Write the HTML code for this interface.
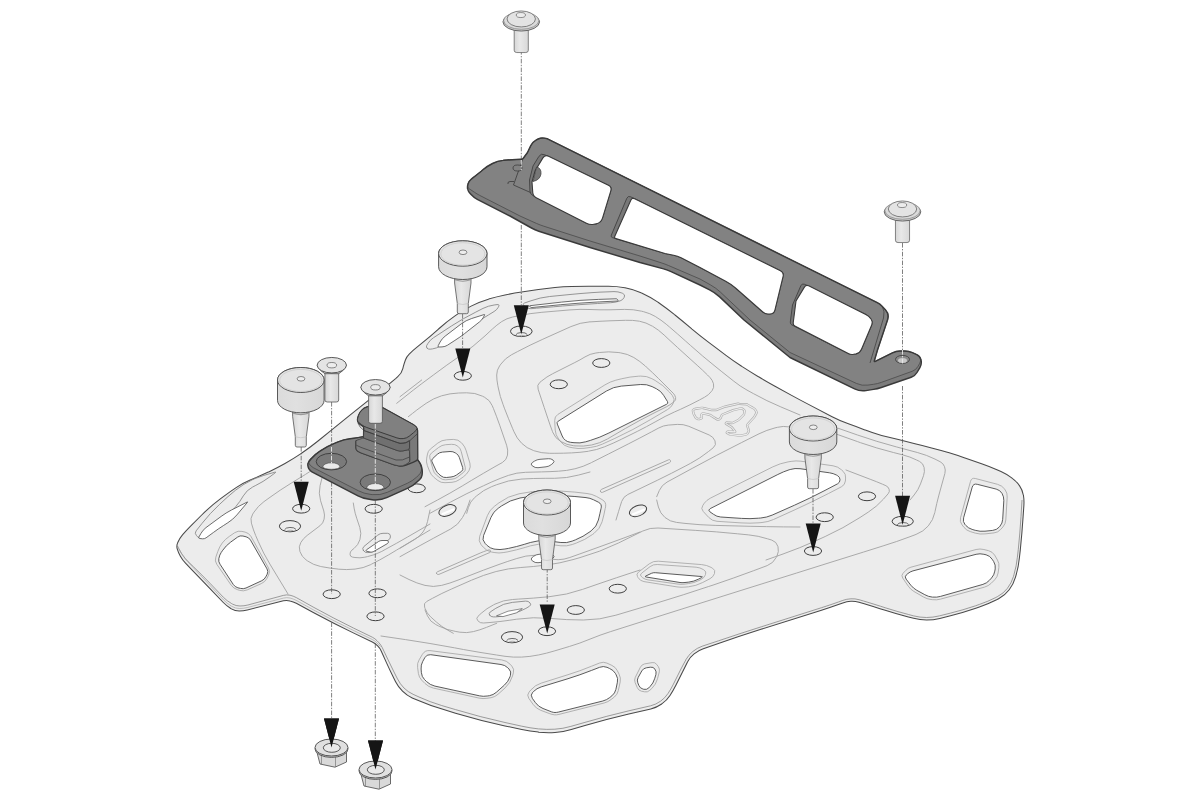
<!DOCTYPE html>
<html><head><meta charset="utf-8"><title>Exploded view</title>
<style>
html,body{margin:0;padding:0;background:#fff;}
body{width:1200px;height:800px;overflow:hidden;font-family:"Liberation Sans",sans-serif;}
svg{display:block;}
</style></head><body>
<svg width="1200" height="800" viewBox="0 0 1200 800" shape-rendering="geometricPrecision">
<rect width="1200" height="800" fill="#fff"/>
<path d="M177.3,549.2 Q176.3,546.0 177.6,542.9 L177.9,542.2 Q179.5,538.5 182.1,535.4 L183.1,534.2 Q186.7,530.0 190.6,526.1 L201.2,515.5 Q210.0,506.7 220.0,499.2 L223.7,496.4 Q230.0,491.7 236.5,487.4 L236.5,487.4 Q243.0,483.0 250.2,480.0 L251.5,479.5 Q260.0,476.0 268.3,472.1 L268.7,471.9 Q277.0,468.0 285.0,463.5 L285.0,463.5 Q293.0,459.0 300.6,453.9 L301.5,453.2 Q310.0,447.5 318.0,441.0 L330.2,431.1 Q350.0,415.0 370.0,399.1 L384.0,388.1 Q390.0,383.3 395.9,378.3 L397.8,376.6 Q401.7,373.3 402.9,368.3 L403.3,366.7 Q404.2,363.3 405.4,360.0 L405.4,360.0 Q406.7,356.7 409.2,354.2 L410.0,353.4 Q413.3,350.0 417.0,347.1 L421.6,343.4 Q430.0,336.7 437.9,329.6 L439.1,328.5 Q446.7,321.7 455.0,315.9 L455.7,315.4 Q463.3,310.0 471.6,305.9 L472.2,305.6 Q480.0,301.7 488.4,299.2 L488.6,299.1 Q496.7,296.7 505.0,295.0 L505.0,295.0 Q513.3,293.3 521.6,292.1 L521.6,292.1 Q530.0,290.8 538.4,289.6 L538.5,289.5 Q546.7,288.3 555.0,287.5 L555.0,287.5 Q563.3,286.7 571.6,286.5 L571.6,286.4 Q580.0,286.2 588.4,286.2 L591.6,286.3 Q600.0,286.3 608.4,286.2 L608.4,286.2 Q616.7,286.2 624.9,287.7 L625.0,287.7 Q633.3,289.2 641.0,292.7 L641.6,292.9 Q650.0,296.7 657.5,301.9 L658.4,302.5 Q666.7,308.3 674.6,314.7 L675.0,315.0 Q683.3,321.7 691.5,328.6 L692.0,329.1 Q700.0,335.8 708.4,342.1 L708.4,342.1 Q716.7,348.3 725.0,354.6 L725.3,354.8 Q733.3,360.8 741.6,366.2 L741.8,366.4 Q750.0,371.7 758.4,376.7 L758.6,376.8 Q766.7,381.7 775.0,386.2 L775.0,386.2 Q783.3,390.8 791.6,395.4 L791.6,395.4 Q800.0,400.0 808.5,404.4 L832.1,416.7 Q840.0,420.8 848.4,423.8 L848.4,423.8 Q856.7,426.7 864.9,430.0 L865.3,430.1 Q873.3,433.3 881.6,435.4 L881.6,435.4 Q890.0,437.5 898.4,439.6 L898.4,439.6 Q906.7,441.7 915.0,443.8 L915.0,443.8 Q923.3,445.8 931.6,447.9 L931.6,447.9 Q940.0,450.0 948.2,452.5 L948.4,452.5 Q956.7,455.0 964.9,457.9 L965.0,457.9 Q973.3,460.8 981.6,463.7 L981.6,463.8 Q990.0,466.7 998.1,470.3 L1001.0,471.6 Q1006.7,474.2 1011.7,477.9 L1012.6,478.7 Q1016.7,481.7 1019.6,485.9 L1019.6,485.9 Q1022.5,490.0 1023.3,495.0 L1023.4,495.0 Q1024.2,500.0 1023.9,505.1 L1023.1,516.6 Q1022.0,533.3 1020.3,549.9 L1019.4,557.7 Q1018.5,566.7 1016.0,575.4 L1015.5,577.1 Q1013.5,584.0 1009.2,589.8 L1009.2,589.8 Q1005.0,595.5 998.6,598.7 L996.6,599.8 Q988.3,604.0 979.4,607.0 L975.8,608.2 Q963.3,612.5 950.5,615.7 L939.8,618.4 Q933.3,620.0 926.6,620.0 L926.6,620.0 Q920.0,620.0 913.6,618.3 L908.4,617.0 Q896.7,614.0 885.2,610.3 L880.0,608.7 Q871.7,606.0 863.4,603.5 L859.0,602.2 Q855.0,601.0 850.9,601.2 L850.9,601.2 Q846.7,601.5 842.8,602.9 L838.4,604.5 Q830.0,607.5 821.5,610.2 L761.0,629.3 Q740.0,636.0 719.1,643.2 L703.3,648.8 Q698.3,650.5 694.1,653.8 L694.1,653.8 Q690.0,657.0 687.6,661.7 L687.5,662.0 Q685.0,667.0 682.5,672.0 L676.0,685.1 Q673.3,690.5 670.0,695.5 L670.0,695.5 Q666.7,700.5 661.8,703.9 L661.7,704.0 Q656.7,707.5 650.8,708.9 L628.8,713.9 Q606.7,719.0 585.0,725.5 L571.3,729.6 Q563.3,732.0 555.0,732.5 L555.0,732.5 Q546.7,733.0 538.4,732.2 L538.4,732.1 Q530.0,731.3 521.8,729.5 L505.0,725.9 Q480.0,720.5 455.5,713.2 L442.1,709.1 Q430.0,705.5 418.4,700.5 L412.2,697.9 Q406.7,695.5 402.5,691.2 L402.5,691.2 Q398.3,687.0 395.6,681.7 L394.1,678.8 Q390.0,670.5 386.2,662.1 L381.2,651.0 Q380.0,648.3 377.9,646.2 L377.1,645.4 Q375.0,643.3 372.3,642.0 L353.8,633.1 Q333.3,623.3 313.3,612.5 L296.3,603.3 Q293.3,601.7 290.0,600.9 L290.0,600.9 Q286.7,600.0 283.4,600.8 L247.3,610.0 Q243.3,611.0 239.2,611.0 L239.2,611.0 Q235.0,611.0 231.4,608.9 L230.8,608.5 Q226.7,606.0 223.3,602.5 L208.8,587.4 Q200.0,578.3 191.2,569.1 L185.5,563.1 Q182.5,560.0 180.4,556.2 L180.0,555.5 Q178.3,552.5 177.3,549.2 Z" fill="#ececec" stroke="#4a4a4a" stroke-width="1.05" stroke-linejoin="round"/>
<path d="M177.5,546.0 L179.0,549.0 Q180.5,552.0 182.4,554.8 L182.8,555.2 Q185.0,558.5 187.8,561.3 L193.5,566.8 Q202.0,575.0 210.2,583.5 L223.4,597.3 Q227.0,601.0 231.5,603.5 L232.5,604.1 Q236.0,606.0 240.0,606.0 L240.0,606.0 Q244.0,606.0 247.9,605.0 L283.4,595.4 Q286.7,594.5 290.0,595.2 L290.0,595.2 Q293.3,596.0 296.3,597.6 L313.1,607.0 Q333.0,618.0 353.4,628.0 L372.3,637.2 Q375.0,638.5 377.0,640.7 L379.0,642.8 Q381.0,645.0 382.3,647.7 L388.1,659.9 Q392.0,668.0 396.0,676.0 L397.5,678.9 Q400.0,684.0 404.0,688.0 L404.0,688.0 Q408.0,692.0 413.1,694.3 L419.0,697.0 Q430.0,702.0 441.6,705.5 L455.5,709.6 Q480.0,717.0 505.0,722.5 L521.8,726.2 Q530.0,728.0 538.4,728.9 L538.6,728.9 Q546.7,729.7 554.9,729.2 L554.9,729.2 Q563.0,728.7 570.8,726.4 L584.9,722.4 Q606.7,716.0 628.9,710.8 L650.6,705.8 Q656.0,704.5 660.5,701.2 L660.6,701.2 Q665.0,698.0 668.0,693.5 L668.0,693.5 Q671.0,689.0 673.4,684.2 L680.4,670.1 Q683.0,665.0 685.8,660.0 L685.8,659.8 Q688.5,655.0 692.8,651.5 L692.8,651.5 Q697.0,648.0 702.2,646.2 L718.5,640.8 Q740.0,633.5 761.6,626.7 L821.5,607.7 Q830.0,605.0 838.4,602.0 L842.8,600.4 Q846.7,599.0 850.9,598.8 L850.9,598.8 Q855.0,598.5 859.0,599.7 L863.5,601.0 Q872.0,603.5 880.4,606.2 L885.7,607.9 Q897.0,611.5 908.5,614.5 L913.7,615.9 Q920.0,617.5 926.5,617.5 L926.5,617.5 Q933.0,617.5 939.3,615.9 L950.2,613.2 Q963.0,610.0 975.5,605.8 L979.7,604.3 Q988.0,601.5 995.8,597.5 L997.6,596.5 Q1003.5,593.5 1007.5,588.2 L1007.5,588.2 Q1011.5,583.0 1013.4,576.7 L1014.0,574.5 Q1016.5,566.0 1017.4,557.2 L1018.3,549.4 Q1020.0,533.0 1021.0,516.5 L1022.0,500.0" fill="none" stroke="#777" stroke-width="0.7" stroke-linejoin="round"/>
<path d="M179.0,549.0 L181.2,553.0 Q183.5,557.0 186.6,560.4 L192.5,566.8 Q201.5,576.5 210.6,586.1 L223.6,599.9 Q227.0,603.5 231.2,606.0 L232.1,606.5 Q235.5,608.5 239.5,608.5 L239.5,608.5 Q243.5,608.5 247.4,607.5 L283.4,598.1 Q286.7,597.3 290.0,598.0 L290.0,598.0 Q293.3,598.8 296.3,600.4 L313.1,609.7 Q333.0,620.6 353.4,630.4 L372.3,639.5 Q375.0,640.8 377.1,643.0 L380.5,646.5" fill="none" stroke="#9a9a9a" stroke-width="0.6" stroke-linejoin="round"/>
<path d="M217.8,551.5 Q221.0,542.0 229.3,536.4 L234.7,532.7 Q238.0,530.5 241.9,531.4 L245.1,532.1 Q249.0,533.0 251.0,536.5 L268.5,568.0 Q270.5,571.5 268.6,575.0 L266.9,578.5 Q265.0,582.0 261.3,583.6 L247.2,589.9 Q243.5,591.5 239.7,590.4 L237.3,589.6 Q233.5,588.5 231.2,585.2 L216.8,564.3 Q214.5,561.0 215.8,557.2 Z" fill="#ebebeb" stroke="#a2a2a2" stroke-width="0.8"/>
<path d="M222.8,550.2 Q226.0,545.5 230.7,542.1 L237.6,537.1 Q240.0,535.3 242.9,536.0 L246.1,536.8 Q249.0,537.5 250.5,540.1 L267.0,568.9 Q268.5,571.5 267.2,574.2 L265.8,576.8 Q264.5,579.5 261.8,580.7 L246.0,588.0 Q243.3,589.2 240.4,588.4 L237.9,587.8 Q235.0,587.0 233.3,584.5 L220.0,564.2 Q218.3,561.7 218.8,558.7 L219.0,558.0 Q219.5,555.0 221.2,552.5 Z" fill="#fff" stroke="#4a4a4a" stroke-width="0.9"/>
<path d="M422.4,654.3 Q425.0,650.0 430.0,650.6 L501.7,659.9 Q506.7,660.5 510.1,664.2 L511.8,666.1 Q514.5,669.0 513.4,672.8 L512.5,676.0 Q510.5,683.0 505.1,687.9 L498.0,694.3 Q495.0,697.0 491.1,697.7 L486.9,698.3 Q483.0,699.0 479.1,698.1 L433.4,688.1 Q428.5,687.0 425.0,683.5 L421.8,680.3 Q419.0,677.5 418.4,673.5 L417.6,667.3 Q417.0,663.3 419.1,659.9 Z" fill="#ebebeb" stroke="#a2a2a2" stroke-width="0.8"/>
<path d="M424.8,657.7 Q426.7,654.2 430.7,654.7 L501.0,664.5 Q505.0,665.0 507.8,667.8 L508.9,668.9 Q511.7,671.7 510.4,675.5 L510.0,676.7 Q508.3,681.7 504.3,685.2 L496.3,692.3 Q493.3,695.0 489.4,695.7 L487.2,696.0 Q483.3,696.7 479.4,695.8 L434.9,686.1 Q430.0,685.0 426.5,681.5 L424.5,679.5 Q421.7,676.7 421.4,672.7 L421.1,669.0 Q420.8,665.0 422.7,661.5 Z" fill="#fff" stroke="#4a4a4a" stroke-width="0.9"/>
<path d="M528.8,698.3 Q526.5,695.0 529.1,692.0 L530.8,690.0 Q535.0,685.0 541.3,683.1 L568.0,674.7 Q580.0,671.0 591.6,666.2 L599.6,663.0 Q603.3,661.5 606.9,663.1 L611.9,665.4 Q615.5,667.0 617.3,670.6 L619.2,674.4 Q621.0,678.0 620.2,681.9 L618.3,690.6 Q617.5,694.5 614.4,697.0 L611.1,699.5 Q608.0,702.0 604.1,703.0 L559.0,714.4 Q556.7,715.0 554.4,714.8 L554.4,714.8 Q552.0,714.5 549.8,713.7 L540.7,710.3 Q536.0,708.5 533.1,704.4 Z" fill="#ebebeb" stroke="#a2a2a2" stroke-width="0.8"/>
<path d="M532.3,698.3 Q530.0,695.0 532.8,692.2 L533.4,691.6 Q536.7,688.3 541.2,686.9 L568.0,678.7 Q580.0,675.0 591.6,670.4 L599.6,667.3 Q603.3,665.8 607.0,667.3 L609.6,668.5 Q613.3,670.0 615.4,673.4 L616.2,674.9 Q618.3,678.3 617.4,682.2 L615.9,689.4 Q615.0,693.3 611.9,695.8 L609.8,697.5 Q606.7,700.0 602.8,701.0 L558.3,712.1 Q556.7,712.5 555.0,712.5 L555.0,712.5 Q553.3,712.5 551.7,711.9 L543.0,708.5 Q538.3,706.7 535.4,702.6 Z" fill="#fff" stroke="#4a4a4a" stroke-width="0.9"/>
<path d="M635.2,682.8 Q634.0,680.0 635.3,677.3 L640.4,667.2 Q641.7,664.5 644.6,663.9 L652.1,662.6 Q655.0,662.0 656.7,664.4 L658.3,666.6 Q660.0,669.0 659.3,671.9 L657.5,678.8 Q656.0,684.5 651.8,688.5 L649.7,690.4 Q647.5,692.5 644.6,691.8 L641.4,691.2 Q638.5,690.5 637.3,687.7 Z" fill="#ebebeb" stroke="#a2a2a2" stroke-width="0.8"/>
<path d="M637.8,682.8 Q636.7,680.0 638.2,677.4 L641.8,670.9 Q643.3,668.3 646.3,667.8 L650.3,667.2 Q653.3,666.7 655.0,669.2 L655.0,669.2 Q656.7,671.7 655.9,674.6 L654.6,678.8 Q653.3,683.3 650.0,686.6 L648.8,687.9 Q646.7,690.0 643.8,689.3 L642.9,689.0 Q640.0,688.3 638.9,685.5 Z" fill="#fff" stroke="#4a4a4a" stroke-width="0.9"/>
<path d="M970.5,481.4 Q971.5,477.5 975.4,478.5 L997.5,484.3 Q1002.0,485.5 1004.8,489.2 L1005.1,489.8 Q1007.5,493.0 1007.2,497.0 L1005.8,520.0 Q1005.5,524.0 1002.9,527.0 L1000.6,529.5 Q998.0,532.5 994.0,532.9 L985.0,533.9 Q980.0,534.5 975.2,533.1 L970.3,531.6 Q966.5,530.5 964.0,527.4 L962.0,524.8 Q959.5,521.7 960.5,517.8 Z" fill="#ebebeb" stroke="#a2a2a2" stroke-width="0.8"/>
<path d="M972.2,487.2 Q973.3,483.3 977.2,484.3 L996.2,489.1 Q1000.0,490.0 1002.0,493.4 L1002.0,493.4 Q1004.0,496.7 1003.8,500.6 L1002.7,519.3 Q1002.5,523.3 999.9,526.3 L999.3,527.0 Q996.7,530.0 992.7,530.4 L985.0,531.2 Q980.0,531.7 975.2,530.3 L972.1,529.4 Q968.3,528.3 965.7,525.3 L965.1,524.7 Q962.5,521.7 963.6,517.8 Z" fill="#fff" stroke="#4a4a4a" stroke-width="0.9"/>
<path d="M902.7,578.0 Q901.0,575.5 903.0,573.3 L906.0,570.2 Q908.0,568.0 910.9,567.2 L976.1,549.5 Q980.0,548.5 983.9,549.5 L988.6,550.7 Q992.5,551.7 994.6,555.1 L997.4,559.9 Q999.5,563.3 998.9,567.3 L998.1,573.0 Q997.5,577.0 994.7,579.8 L991.3,583.2 Q988.5,586.0 984.6,587.1 L940.6,599.1 Q936.7,600.2 932.7,599.7 L931.0,599.5 Q927.0,599.0 923.5,597.0 L914.0,591.5 Q910.5,589.5 908.3,586.2 Z" fill="#ebebeb" stroke="#a2a2a2" stroke-width="0.8"/>
<path d="M906.1,579.1 Q904.2,576.7 906.5,574.7 L907.7,573.7 Q910.0,571.7 912.9,570.9 L976.1,554.3 Q980.0,553.3 983.9,554.3 L986.1,554.8 Q990.0,555.8 992.1,559.2 L993.7,561.6 Q995.8,565.0 995.2,568.9 L994.8,571.1 Q994.2,575.0 991.5,578.0 L989.4,580.3 Q986.7,583.3 982.9,584.4 L940.5,596.4 Q936.7,597.5 932.7,597.1 L932.3,597.1 Q928.3,596.7 924.8,594.7 L916.8,590.3 Q913.3,588.3 910.8,585.2 Z" fill="#fff" stroke="#4a4a4a" stroke-width="0.9"/>
<path d="M554.7,420.5 Q554.5,416.5 557.9,414.4 L604.9,384.9 Q610.0,381.7 615.8,380.2 L621.9,378.7 Q630.0,376.7 638.4,376.2 L640.7,376.1 Q646.7,375.8 651.9,378.7 L655.2,380.5 Q663.3,385.0 669.4,392.0 L672.3,395.4 Q675.5,399.0 673.2,403.2 L672.9,404.0 Q671.0,407.5 667.6,409.5 L650.2,419.8 Q633.0,430.0 614.9,438.4 L602.2,444.2 Q596.7,446.7 590.7,447.4 L584.0,448.3 Q578.0,449.0 572.1,447.7 L568.9,447.0 Q564.0,446.0 560.9,442.0 L558.6,439.0 Q555.5,435.0 555.2,430.0 Z" fill="#ebebeb" stroke="#a2a2a2" stroke-width="0.8"/>
<path d="M557.3,424.1 Q556.5,422.3 558.2,421.2 L606.5,391.0 Q613.3,386.8 621.3,386.1 L640.7,384.5 Q646.7,384.0 652.1,386.6 L656.5,388.8 Q661.0,391.0 663.6,395.3 L667.5,401.6 Q668.5,403.3 666.7,404.2 L608.9,433.0 Q600.0,437.5 590.4,440.4 L585.7,441.8 Q580.0,443.5 574.0,442.7 L570.5,442.3 Q564.5,441.5 562.2,436.0 Z" fill="#fff" stroke="#4a4a4a" stroke-width="0.9"/>
<path d="M481.2,544.8 Q478.0,541.0 479.7,536.3 L487.4,515.6 Q489.5,510.0 494.3,506.4 L499.0,502.8 Q508.0,496.0 519.0,493.8 L519.0,493.8 Q530.0,491.5 541.2,491.1 L545.0,491.0 Q560.0,490.5 574.9,492.1 L587.0,493.5 Q592.0,494.0 596.4,496.4 L602.1,499.6 Q606.5,502.0 605.6,506.9 L605.2,508.5 Q604.0,515.0 602.2,521.4 L602.0,522.0 Q600.0,529.0 594.1,533.3 L592.5,534.5 Q585.0,540.0 576.2,543.1 L572.3,544.5 Q566.7,546.5 560.9,545.8 L560.9,545.8 Q555.0,545.0 549.1,544.5 L546.6,544.2 Q538.3,543.5 530.3,545.9 L525.3,547.4 Q516.7,550.0 507.9,551.8 L503.9,552.5 Q499.0,553.5 494.1,552.5 L491.4,552.0 Q486.5,551.0 483.3,547.2 Z" fill="#ebebeb" stroke="#a2a2a2" stroke-width="0.8"/>
<path d="M485.2,543.5 Q481.7,540.0 483.6,535.4 L491.0,517.3 Q493.3,511.7 498.2,508.3 L501.6,505.9 Q510.0,500.0 520.0,498.0 L520.0,498.0 Q530.0,496.0 540.2,495.7 L545.0,495.5 Q560.0,495.0 574.9,496.5 L586.0,497.6 Q590.0,498.0 593.6,499.8 L598.4,502.2 Q602.0,504.0 601.2,507.9 L601.0,508.6 Q600.0,513.3 598.9,517.9 L598.4,520.0 Q596.7,526.7 591.2,530.8 L590.0,531.7 Q583.3,536.7 575.5,539.8 L572.2,541.1 Q566.7,543.3 560.9,542.5 L560.9,542.5 Q555.0,541.7 549.1,541.1 L546.6,540.9 Q538.3,540.0 530.3,542.5 L524.8,544.2 Q516.7,546.7 508.4,548.4 L504.9,549.0 Q500.0,550.0 495.1,549.2 L493.9,549.0 Q490.0,548.3 487.2,545.5 Z" fill="#fff" stroke="#4a4a4a" stroke-width="0.9"/>
<path d="M703.2,511.4 Q700.5,508.5 702.9,505.3 L704.3,503.2 Q706.7,500.0 710.3,498.2 L772.7,466.9 Q780.0,463.3 788.0,461.9 L791.1,461.4 Q796.0,460.5 800.9,461.2 L833.1,465.8 Q838.0,466.5 841.6,469.9 L843.1,471.3 Q846.0,474.0 845.6,478.0 L845.4,481.0 Q845.0,485.0 841.4,486.8 L828.5,493.5 Q812.0,502.0 795.1,509.7 L773.5,519.5 Q768.0,522.0 762.0,522.5 L759.0,522.8 Q750.0,523.5 741.0,522.9 L717.0,521.3 Q712.0,521.0 708.6,517.3 Z" fill="#ebebeb" stroke="#a2a2a2" stroke-width="0.8"/>
<path d="M709.9,511.8 Q707.5,510.0 710.2,508.6 L777.8,474.5 Q783.3,471.7 789.1,469.8 L790.2,469.5 Q795.0,468.0 800.0,468.7 L829.5,472.8 Q833.3,473.3 836.6,475.1 L837.6,475.7 Q840.0,477.0 840.0,479.8 L840.0,479.8 Q840.0,482.5 837.6,483.8 L825.0,490.4 Q810.0,498.3 794.5,505.2 L772.2,515.1 Q766.7,517.5 760.7,518.0 L758.4,518.2 Q750.0,519.0 741.6,518.4 L720.7,517.0 Q716.7,516.7 713.5,514.3 Z" fill="#fff" stroke="#4a4a4a" stroke-width="0.9"/>
<path d="M427.5,454.0 Q428.0,451.0 430.3,449.1 L437.8,443.1 Q441.7,440.0 446.7,439.8 L453.3,439.4 Q458.3,439.2 461.6,442.9 L462.3,443.7 Q465.0,446.7 466.1,450.5 L469.9,463.2 Q471.0,467.0 469.0,470.5 L468.7,471.0 Q466.7,474.5 463.4,476.8 L459.3,479.7 Q456.0,482.0 452.0,482.3 L445.0,482.7 Q441.0,483.0 437.9,480.5 L434.1,477.5 Q431.0,475.0 429.6,471.3 L427.4,465.7 Q426.0,462.0 426.7,458.1 Z" fill="none" stroke="#a2a2a2" stroke-width="0.8"/>
<path d="M429.8,457.9 Q429.0,455.0 431.4,453.1 L438.6,447.5 Q441.7,445.0 445.7,444.7 L451.5,444.3 Q455.0,444.0 457.8,446.2 L458.2,446.6 Q460.5,448.5 461.2,451.4 L465.3,467.6 Q466.0,470.5 463.6,472.3 L457.4,477.2 Q455.0,479.0 452.0,479.2 L445.5,479.8 Q442.5,480.0 440.2,478.1 L436.3,474.9 Q434.0,473.0 433.2,470.1 Z" fill="#ebebeb" stroke="#a2a2a2" stroke-width="0.8"/>
<path d="M432.0,461.8 Q431.2,460.0 432.7,458.6 L437.3,454.3 Q439.5,452.3 442.5,452.1 L450.0,451.5 Q453.0,451.3 455.5,453.0 L456.4,453.6 Q458.5,455.0 459.3,457.4 L462.7,467.6 Q463.5,470.0 461.5,471.4 L456.5,475.0 Q454.0,476.7 451.0,477.0 L446.3,477.5 Q443.3,477.8 441.0,475.9 L438.9,474.1 Q437.0,472.5 435.9,470.2 Z" fill="#fff" stroke="#4a4a4a" stroke-width="0.9"/>
<path d="M637.5,576.6 Q636.0,574.0 638.4,572.2 L649.3,563.8 Q653.3,560.8 658.3,561.2 L701.7,564.6 Q706.7,565.0 711.1,567.4 L712.5,568.2 Q715.8,570.0 714.5,573.5 L714.5,573.5 Q713.3,577.0 710.0,578.7 L702.7,582.5 Q696.0,586.0 688.5,586.8 L685.0,587.1 Q681.0,587.5 677.0,586.9 L644.0,581.6 Q640.0,581.0 638.0,577.5 Z" fill="none" stroke="#a2a2a2" stroke-width="0.8"/>
<path d="M641.6,576.8 Q639.2,575.0 641.6,573.2 L650.1,566.6 Q653.3,564.2 657.3,564.5 L696.1,567.2 Q700.0,567.5 703.4,569.6 L704.2,570.1 Q706.7,571.7 705.5,574.5 L705.2,575.2 Q704.0,578.0 701.3,579.3 L699.0,580.5 Q694.0,583.0 688.4,583.6 L684.0,584.2 Q681.0,584.5 678.0,584.1 L648.0,579.9 Q645.0,579.5 642.6,577.7 Z" fill="#ebebeb" stroke="#a2a2a2" stroke-width="0.8"/>
<path d="M646.2,577.0 Q644.2,576.7 646.0,575.9 L651.5,573.3 Q653.3,572.5 655.3,572.7 L701.3,576.5 Q703.3,576.7 701.5,577.6 L698.6,579.1 Q694.0,581.5 688.8,582.1 L684.0,582.6 Q682.0,582.8 680.0,582.5 Z" fill="#fff" stroke="#4a4a4a" stroke-width="0.9"/>
<path d="M318.0,465.0 L314.0,468.4 Q310.0,471.7 305.5,474.4 L291.6,482.9 Q280.0,490.0 269.0,498.0 L263.9,501.7 Q258.0,506.0 254.0,512.1 L252.7,514.1 Q250.0,518.3 251.4,523.1 L251.7,524.1 Q253.3,530.0 255.7,535.6 L258.3,541.6 Q263.3,553.3 269.9,564.1 L288.0,594.0" fill="none" stroke="#a2a2a2" stroke-width="0.9" stroke-linejoin="round" stroke-linecap="round"/>
<path d="M322.0,478.0 L320.1,485.6 Q318.3,493.3 320.6,500.8 L323.8,511.0 Q325.0,515.0 324.1,519.1 L324.1,519.1 Q323.3,523.3 319.9,525.8 L307.2,535.4 Q303.3,538.3 300.8,542.5 L300.8,542.5 Q298.3,546.7 299.9,551.3 L300.0,551.7 Q301.7,556.7 306.0,559.8 L307.5,560.9 Q313.3,565.0 320.3,566.4 L321.8,566.7 Q330.0,568.3 338.4,569.1 L338.4,569.2 Q346.7,570.0 355.0,569.1 L355.0,569.1 Q363.3,568.3 370.8,564.6 L371.6,564.1 Q380.0,560.0 388.0,555.2 L388.4,555.0 Q396.7,550.0 405.0,545.0 L430.0,530.0" fill="none" stroke="#a2a2a2" stroke-width="0.9" stroke-linejoin="round" stroke-linecap="round"/>
<path d="M353.3,503.0 L354.1,508.1 Q355.0,513.3 356.7,518.2 L359.8,527.5 Q361.7,533.3 360.0,539.1 L359.8,539.9 Q358.3,545.0 354.1,548.4 L351.9,550.1 Q350.0,551.7 350.0,554.2 L350.0,554.2 Q350.0,556.7 352.5,557.1 L355.0,557.5 Q360.0,558.3 364.9,557.2 L367.5,556.6 Q375.0,555.0 381.8,551.4 L385.9,549.1 Q396.7,543.3 407.4,537.1 L430.0,524.0" fill="none" stroke="#a2a2a2" stroke-width="0.9" stroke-linejoin="round" stroke-linecap="round"/>
<path d="M196.3,535.4 Q194.2,533.3 196.1,530.9 L202.1,523.3 Q210.0,513.3 219.3,504.6 L227.1,497.4 Q235.0,490.0 244.2,484.1 L244.2,484.2 Q253.3,478.3 263.8,475.4 L274.8,472.2 Q276.7,471.7 275.1,472.9 L270.0,476.7 Q263.3,481.7 255.8,485.4 L252.7,487.0 Q246.7,490.0 243.3,495.9 L243.3,495.9 Q240.0,501.7 235.6,506.8 L225.6,518.3 Q218.3,526.7 209.2,533.0 L202.5,537.5 Q200.0,539.2 197.9,537.1 Z" fill="none" stroke="#8a8a8a" stroke-width="0.9" stroke-linejoin="round" stroke-linecap="round"/>
<path d="M199.7,538.5 Q198.2,538.3 198.9,537.0 L200.9,533.5 Q202.8,530.0 206.0,527.6 L221.2,516.4 Q226.0,512.8 231.3,510.1 L247.1,502.1 Q248.0,501.6 247.4,502.4 L236.9,514.9 Q233.0,519.5 227.9,522.7 L223.4,525.6 Q218.3,528.8 213.5,532.4 L206.1,537.8 Q204.5,539.0 202.5,538.8 Z" fill="#fff" stroke="#4a4a4a" stroke-width="0.8"/>
<path d="M363.4,550.6 Q361.7,548.3 363.9,546.5 L377.7,535.2 Q380.0,533.3 383.0,533.3 L387.5,533.3 Q390.0,533.3 390.4,535.8 L390.4,535.8 Q390.8,538.3 388.8,539.8 L375.7,549.9 Q373.3,551.7 370.3,552.2 L367.8,552.6 Q365.0,553.0 363.4,550.6 Z" fill="none" stroke="#8a8a8a" stroke-width="0.9" stroke-linejoin="round" stroke-linecap="round"/>
<path d="M366.9,551.3 Q365.0,550.8 366.6,549.7 L378.4,541.6 Q380.0,540.5 382.0,540.5 L387.0,540.5 Q388.3,540.5 388.4,541.8 L388.4,541.8 Q388.5,543.0 387.4,543.6 L373.7,551.5 Q372.0,552.5 370.1,552.0 Z" fill="#fff" stroke="#4a4a4a" stroke-width="0.8"/>
<path d="M427.1,348.2 Q425.8,347.0 426.7,345.5 L427.9,343.5 Q430.0,340.0 433.4,337.8 L451.6,325.9 Q463.3,318.3 475.8,312.1 L483.0,308.4 Q488.3,305.8 494.1,305.0 L497.0,304.6 Q500.0,304.2 498.5,306.8 L498.2,307.4 Q496.7,310.0 494.1,311.5 L488.4,315.0 Q480.0,320.0 471.9,325.4 L464.0,330.7 Q455.0,336.7 445.9,342.5 L440.3,346.0 Q436.7,348.3 432.5,348.9 L430.1,349.2 Q428.3,349.5 427.1,348.2 Z" fill="none" stroke="#8a8a8a" stroke-width="0.9" stroke-linejoin="round" stroke-linecap="round"/>
<path d="M439.0,347.0 Q437.5,347.0 438.2,345.7 L440.1,342.0 Q442.0,338.5 445.2,336.1 L461.2,323.9 Q466.0,320.3 471.7,318.5 L484.0,314.6 Q485.0,314.3 484.5,315.2 L483.4,317.3 Q482.0,320.0 479.6,321.8 L464.7,333.5 Q460.0,337.2 454.9,340.4 L447.5,345.2 Q445.0,346.8 442.0,346.9 Z" fill="#fff" stroke="#4a4a4a" stroke-width="0.8"/>
<path d="M524.0,305.9 Q521.7,304.0 524.5,303.0 L530.9,300.8 Q540.0,297.5 549.7,296.5 L570.0,294.5 Q580.0,293.5 590.0,292.8 L591.0,292.7 Q600.0,292.0 609.0,291.8 L614.0,291.6 Q618.0,291.5 621.8,293.0 L622.7,293.4 Q625.5,294.5 624.3,297.2 L624.2,297.3 Q623.0,300.0 620.1,300.9 L619.0,301.2 Q615.0,302.5 610.8,302.7 L597.5,303.5 Q580.0,304.5 562.5,306.0 L553.5,306.8 Q545.0,307.5 536.5,308.2 L531.0,308.7 Q528.0,309.0 525.7,307.1 Z" fill="none" stroke="#8a8a8a" stroke-width="0.9" stroke-linejoin="round" stroke-linecap="round"/>
<path d="M529.7,306.5 Q529.0,305.8 530.0,305.7 L561.6,302.1 Q580.0,300.0 598.5,299.4 L616.0,298.8 Q617.0,298.8 617.6,299.6 L617.9,300.1 Q618.5,300.9 617.5,301.0 L599.2,301.9 Q580.0,302.9 560.8,304.7 L532.0,307.5 Q531.0,307.6 530.3,306.9 Z" fill="#fff" stroke="#4a4a4a" stroke-width="0.8"/>
<path d="M396.7,403.3 L405.0,396.7 Q413.3,390.0 421.8,383.6 L433.8,374.7 Q446.7,365.0 460.0,355.9 L460.2,355.7 Q473.3,346.7 485.0,335.9 L492.3,329.1 Q496.7,325.0 501.7,321.6 L501.7,321.6 Q506.7,318.3 512.6,317.0 L518.4,315.8 Q530.0,313.3 541.9,312.3 L570.0,309.9 Q580.0,309.0 590.0,309.5 L590.0,309.5 Q600.0,310.0 610.0,309.8 L624.7,309.4 Q633.3,309.2 641.6,311.2 L643.6,311.7 Q650.0,313.3 655.6,316.6 L655.6,316.7 Q661.2,320.0 666.2,324.2 L669.4,326.9 Q677.5,333.8 685.4,340.9 L690.6,345.5 Q702.5,356.2 715.0,366.2 L721.2,371.2 Q727.5,376.2 733.8,381.2 L733.8,381.2 Q740.0,386.2 747.0,390.1 L753.4,393.6 Q766.7,401.0 780.8,406.9 L800.0,415.0" fill="none" stroke="#a2a2a2" stroke-width="0.9" stroke-linejoin="round" stroke-linecap="round"/>
<path d="M497.7,384.9 Q496.7,380.0 496.7,375.0 L496.7,375.0 Q496.7,370.0 499.6,365.9 L500.9,364.1 Q505.0,358.3 511.3,354.9 L517.5,351.6 Q530.0,345.0 542.9,339.2 L570.9,326.6 Q580.0,322.5 590.0,321.8 L590.0,321.9 Q600.0,321.2 610.0,320.8 L625.5,320.3 Q632.5,320.0 639.4,321.2 L639.4,321.2 Q646.2,322.5 652.2,326.1 L652.5,326.2 Q658.8,330.0 664.1,335.0 L668.1,338.8 Q677.5,347.5 687.0,356.1 L697.2,365.3 Q702.5,370.0 707.5,375.0 L709.8,377.3 Q712.5,380.0 713.5,383.8 L713.5,383.8 Q714.4,387.5 712.1,390.6 L711.6,391.2 Q708.8,395.0 704.6,397.2 L699.4,400.0 Q690.0,405.0 680.3,409.4 L674.6,411.9 Q665.0,416.2 655.9,421.5 L655.9,421.5 Q646.7,426.7 637.3,431.4 L621.3,439.3 Q613.3,443.3 605.0,446.6 L604.5,446.8 Q596.7,450.0 588.4,451.2 L588.3,451.3 Q580.0,452.5 571.6,452.9 L571.6,452.9 Q563.3,453.3 554.9,453.3 L549.6,453.3 Q541.7,453.3 534.2,450.8 L533.4,450.5 Q526.7,448.3 521.7,443.3 L521.7,443.3 Q516.7,438.3 514.0,431.8 L512.5,428.3 Q508.3,418.3 504.4,408.2 L503.1,404.6 Q500.0,396.7 498.4,388.4 Z" fill="none" stroke="#a2a2a2" stroke-width="0.9" stroke-linejoin="round" stroke-linecap="round"/>
<path d="M538.0,388.8 Q536.7,385.0 539.8,382.4 L541.7,380.9 Q546.7,376.7 552.5,373.8 L574.7,362.6 Q580.0,360.0 585.0,356.9 L585.0,356.9 Q590.0,353.8 595.8,353.0 L599.4,352.5 Q608.8,351.2 618.1,352.5 L620.3,352.8 Q627.5,353.8 633.8,357.5 L633.8,357.5 Q640.0,361.2 645.4,366.1 L646.2,366.9 Q652.5,372.5 658.4,378.4 L660.0,380.0 Q665.0,385.0 670.0,390.0 L673.2,393.2 Q675.0,395.0 675.6,397.5 L675.6,397.5 Q676.2,400.0 674.2,401.6 L673.1,402.5 Q670.0,405.0 666.4,406.8 L655.0,412.5 Q640.0,420.0 625.5,428.4 L607.4,439.0 Q600.0,443.3 591.6,445.0 L591.5,445.0 Q583.3,446.7 575.0,445.9 L573.4,445.7 Q566.7,445.0 560.9,441.6 L560.9,441.6 Q555.0,438.3 552.6,432.0 L552.5,431.6 Q550.0,425.0 547.8,418.3 L544.2,407.5 Q541.7,400.0 539.2,392.5 Z" fill="none" stroke="#a2a2a2" stroke-width="0.9" stroke-linejoin="round" stroke-linecap="round"/>
<path d="M421.7,380.0 L400.0,396.7" fill="none" stroke="#a2a2a2" stroke-width="0.9" stroke-linejoin="round" stroke-linecap="round"/>
<path d="M408.3,416.7 L412.5,413.4 Q416.7,410.0 421.1,406.9 L426.2,403.3 Q433.3,398.3 441.6,395.8 L441.6,395.8 Q450.0,393.3 458.7,393.0 L466.6,392.8 Q475.0,392.5 482.5,396.2 L484.6,397.3 Q490.0,400.0 492.2,405.6 L493.4,408.4 Q496.7,416.7 499.7,425.2 L506.6,445.2 Q508.3,450.0 507.5,455.0 L507.5,455.1 Q506.7,460.0 502.4,462.5 L495.0,466.6 Q483.3,473.3 471.8,480.2 L462.2,486.0 Q450.0,493.3 437.5,500.0 L425.0,506.7" fill="none" stroke="#a2a2a2" stroke-width="0.9" stroke-linejoin="round" stroke-linecap="round"/>
<path d="M430.0,513.3 L450.7,502.0 Q466.7,493.3 483.4,485.8 L491.9,481.9 Q500.0,478.3 508.4,475.4 L508.4,475.4 Q516.7,472.5 525.5,472.3 L541.6,471.9 Q550.0,471.7 558.4,471.2 L558.4,471.2 Q566.7,470.8 574.8,468.8 L575.0,468.8 Q583.3,466.7 590.9,462.9 L591.6,462.5 Q600.0,458.3 608.3,454.1 L628.2,444.0 Q640.0,438.0 651.6,431.8 L658.9,427.9 Q663.3,425.5 668.3,425.1 L677.3,424.4 Q683.3,424.0 688.8,426.3 L709.2,435.0 Q713.3,436.7 715.0,440.9 L715.0,440.9 Q716.7,445.0 713.2,447.8 L708.4,451.6 Q700.0,458.3 690.6,463.3 L685.9,465.8 Q671.7,473.3 657.3,480.3 L627.8,494.5 Q623.3,496.7 621.7,501.4 L621.6,501.7 Q620.0,506.7 618.5,511.7 L616.0,520.0" fill="none" stroke="#a2a2a2" stroke-width="0.9" stroke-linejoin="round" stroke-linecap="round"/>
<path d="M466.7,513.3 L468.4,507.5 Q470.0,501.7 474.5,497.7 L476.6,495.9 Q483.3,490.0 491.5,486.7 L496.7,484.7 Q508.3,480.0 520.8,479.2 L520.8,479.1 Q533.3,478.3 545.8,478.3 L554.6,478.3 Q566.7,478.3 578.4,475.1 L590.0,472.0" fill="none" stroke="#a2a2a2" stroke-width="0.9" stroke-linejoin="round" stroke-linecap="round"/>
<path d="M532.3,465.9 Q530.0,464.0 532.5,462.4 L534.5,461.1 Q537.0,459.5 540.0,459.3 L548.5,458.7 Q551.0,458.5 553.0,460.0 L553.0,460.0 Q555.0,461.5 553.1,463.1 L551.3,464.6 Q549.0,466.5 546.0,466.8 L538.0,467.7 Q535.0,468.0 532.7,466.1 Z" fill="#fff" stroke="#4a4a4a" stroke-width="0.8"/>
<path d="M430.0,510.0 L427.5,521.6 Q425.0,533.3 414.8,539.4 L400.0,548.3" fill="none" stroke="#a2a2a2" stroke-width="0.9" stroke-linejoin="round" stroke-linecap="round"/>
<path d="M470.0,500.0 L468.3,505.0 Q466.7,510.0 464.1,514.6 L462.5,517.5 Q458.3,525.0 450.7,529.0 L445.8,531.6 Q433.3,538.3 420.9,545.1 L400.0,556.7" fill="none" stroke="#a2a2a2" stroke-width="0.9" stroke-linejoin="round" stroke-linecap="round"/>
<path d="M400.0,575.0 L409.0,579.5 Q416.7,583.3 425.0,585.4 L425.0,585.4 Q433.3,587.5 441.6,585.4 L441.6,585.4 Q450.0,583.3 458.0,580.1 L466.9,576.6 Q483.3,570.0 500.0,564.1 L507.8,561.4 Q516.7,558.3 525.9,556.1 L525.9,556.1 Q535.0,554.0 543.9,556.9 L546.6,557.9 Q558.3,561.7 569.8,557.5 L579.9,553.9 Q600.0,546.7 620.0,539.4 L640.0,532.0" fill="none" stroke="#a2a2a2" stroke-width="0.9" stroke-linejoin="round" stroke-linecap="round"/>
<path d="M453.3,633.3 L447.5,630.0 Q441.7,626.7 436.7,622.3 L430.6,616.8 Q426.7,613.3 425.0,608.3 L424.6,607.1 Q423.3,603.3 426.8,601.4 L432.5,598.3 Q441.7,593.3 451.3,589.1 L471.5,580.2 Q483.3,575.0 495.8,571.6 L496.2,571.5 Q508.3,568.3 520.8,567.5 L520.8,567.5 Q533.3,566.7 545.7,565.1 L546.6,565.0 Q560.0,563.3 573.0,559.6 L580.0,557.6 Q600.0,552.0 618.7,542.9 L642.8,531.0 Q650.0,527.5 658.0,528.0 L695.8,530.4 Q716.7,531.7 737.5,533.8 L748.7,534.9 Q758.3,535.8 767.5,538.8 L771.8,540.1 Q776.7,541.7 778.0,546.7 L778.0,546.7 Q779.2,551.7 776.9,556.3 L776.2,557.5 Q773.3,563.3 767.2,565.6 L753.3,570.8 Q733.3,578.3 713.0,585.1 L708.3,586.6 Q683.3,595.0 658.1,602.6 L615.9,615.2 Q600.0,620.0 583.4,620.0 L583.4,620.0 Q566.7,620.0 550.1,618.4 L550.0,618.4 Q533.3,616.7 516.7,619.2 L509.9,620.2 Q500.0,621.7 490.0,622.5 L483.3,623.0 Q480.0,623.3 477.9,620.8 L477.7,620.6 Q475.8,618.3 478.0,616.3 L481.2,613.3 Q486.7,608.3 493.3,605.0 L495.0,604.1 Q503.3,600.0 512.6,599.5 L518.3,599.1 Q533.3,598.3 548.3,596.8 L550.0,596.6 Q566.7,595.0 582.5,589.4 L583.4,589.1 Q600.0,583.3 616.7,577.7 L640.0,570.0" fill="none" stroke="#a2a2a2" stroke-width="0.9" stroke-linejoin="round" stroke-linecap="round"/>
<path d="M436.6,573.7 Q435.8,572.5 437.2,571.9 L480.1,553.1 Q483.3,551.7 486.6,550.6 L488.7,549.9 Q490.0,549.5 490.5,550.8 L490.5,550.8 Q491.0,552.0 489.8,552.5 L438.9,574.4 Q437.5,575.0 436.7,573.8 Z" fill="none" stroke="#a2a2a2" stroke-width="0.9" stroke-linejoin="round" stroke-linecap="round"/>
<path d="M600.5,491.4 Q600.0,490.0 601.4,489.4 L668.6,459.8 Q670.0,459.2 670.5,460.6 L670.5,460.6 Q671.0,462.0 669.6,462.6 L602.4,492.4 Q601.0,493.0 600.5,491.6 Z" fill="none" stroke="#a2a2a2" stroke-width="0.9" stroke-linejoin="round" stroke-linecap="round"/>
<path d="M489.6,615.1 Q488.3,613.3 490.2,612.0 L495.8,608.3 Q503.3,603.3 512.3,602.4 L525.6,601.1 Q528.3,600.8 530.0,602.9 L530.0,602.9 Q531.7,605.0 529.4,606.3 L525.9,608.4 Q520.0,611.7 513.5,613.3 L504.4,615.6 Q500.0,616.7 495.5,616.9 L493.3,616.9 Q491.0,617.0 489.6,615.1 Z" fill="none" stroke="#8a8a8a" stroke-width="0.9" stroke-linejoin="round" stroke-linecap="round"/>
<path d="M496.5,615.8 L508,611.2 L522.3,608.6 L516.5,612.8 L503,616.6 Z" fill="#fff" stroke="#4a4a4a" stroke-width="0.6" stroke-linejoin="round"/>
<path d="M838.3,428.3 L857.5,435.0 Q876.7,441.7 896.4,446.9 L917.7,452.6 Q926.7,455.0 935.0,459.1 L940.1,461.7 Q943.3,463.3 944.5,466.6 L944.5,466.6 Q945.8,470.0 944.9,473.4 L938.9,495.1 Q936.7,503.3 935.0,511.6 L934.8,512.5 Q933.3,520.0 928.3,525.9 L928.3,525.9 Q923.3,531.7 916.1,534.4 L910.0,536.7 Q896.7,541.7 883.1,545.9 L863.4,552.1 Q830.0,562.5 796.7,573.0 L750.0,587.6 Q700.0,603.3 650.0,619.1 L610.3,631.7 Q600.0,635.0 590.0,639.1 L590.0,639.1 Q580.0,643.3 569.6,646.4 L554.9,650.8 Q546.7,653.3 538.4,655.0 L538.2,655.0 Q530.0,656.7 521.6,657.1 L521.6,657.1 Q513.3,657.5 505.0,656.3 L496.6,655.0 Q480.0,652.5 463.4,649.5 L454.4,647.8 Q430.0,643.3 405.5,639.6 L381.0,636.0" fill="none" stroke="#a2a2a2" stroke-width="0.9" stroke-linejoin="round" stroke-linecap="round"/>
<path d="M800.0,420.0 L819.4,427.6 Q838.3,435.0 857.5,441.6 L860.5,442.7 Q876.7,448.3 893.4,452.5 L902.8,454.9 Q910.0,456.7 916.6,460.0 L919.5,461.4 Q923.3,463.3 924.1,467.5 L924.1,467.5 Q925.0,471.7 923.5,475.7 L920.5,483.9 Q918.3,490.0 914.1,495.0 L910.0,500.0" fill="none" stroke="#a2a2a2" stroke-width="0.9" stroke-linejoin="round" stroke-linecap="round"/>
<path d="M846.0,470.0 L870.8,479.5 Q876.7,481.7 882.5,484.2 L885.9,485.7 Q888.3,486.7 889.1,489.2 L889.1,489.2 Q890.0,491.7 888.2,493.7 L883.4,499.2 Q876.7,506.7 868.3,512.1 L860.0,517.5 Q843.3,528.3 825.2,536.5 L816.4,540.5 Q800.0,548.0 783.0,554.0 L766.0,560.0" fill="none" stroke="#a2a2a2" stroke-width="0.9" stroke-linejoin="round" stroke-linecap="round"/>
<path d="M656.7,496.7 L659.3,490.5 Q661.7,485.0 667.0,482.1 L692.2,468.4 Q716.7,455.0 741.7,442.5 L759.0,433.8 Q766.7,430.0 775.0,427.9 L777.5,427.3 Q783.3,425.8 789.1,426.9 L795.0,428.0" fill="none" stroke="#a2a2a2" stroke-width="0.9" stroke-linejoin="round" stroke-linecap="round"/>
<path d="M656.7,500.0 L658.4,507.0 Q660.0,513.3 665.0,517.5 L665.0,517.5 Q670.0,521.7 676.5,522.4 L685.0,523.4 Q700.0,525.0 715.1,525.4 L750.1,526.3 Q766.7,526.7 783.4,526.9 L800.0,527.0" fill="none" stroke="#a2a2a2" stroke-width="0.9" stroke-linejoin="round" stroke-linecap="round"/>
<path d="M425.0,610.0 L427.5,615.9 Q430.0,621.7 435.7,624.5 L438.4,625.9 Q446.7,630.0 455.9,631.5 L459.9,632.2 Q466.7,633.3 473.4,631.6 L473.4,631.6 Q480.0,630.0 486.4,627.4 L496.7,623.3" fill="none" stroke="#a2a2a2" stroke-width="0.9" stroke-linejoin="round" stroke-linecap="round"/>
<path d="M692.9,410.7 Q692.8,410.0 693.4,409.7 L694.4,409.1 Q695.0,408.8 695.7,408.7 L701.8,407.9 Q702.5,407.8 703.2,408.0 L710.8,409.8 Q711.5,410.0 712.2,410.0 L715.3,410.0 Q716.0,410.0 716.7,409.8 L724.3,406.8 Q725.0,406.6 725.7,406.5 L737.8,403.8 Q738.5,403.7 739.2,403.8 L746.3,404.3 Q747.0,404.4 747.6,404.8 L749.9,406.2 Q750.5,406.6 751.1,406.9 L754.0,408.5 Q754.6,408.8 755.0,409.4 L756.4,411.7 Q756.8,412.2 756.5,412.9 L754.8,416.1 Q754.5,416.8 754.0,417.3 L747.5,424.5 Q747.0,425.0 747.2,425.7 L748.8,430.3 Q749.0,431.0 748.6,431.6 L747.4,433.7 Q747.0,434.3 746.3,434.4 L740.7,435.6 Q740.0,435.7 739.3,435.6 L730.2,434.4 Q729.5,434.3 728.9,433.9 L727.1,432.9 Q726.5,432.5 727.0,432.1 L727.5,431.7 Q728.0,431.3 728.7,431.4 L734.8,431.9 Q735.5,432.0 735.1,431.5 L732.2,427.8 Q731.8,427.2 731.2,426.9 L726.2,423.9 Q725.6,423.5 726.0,423.0 L726.1,422.9 Q726.5,422.4 727.2,422.5 L731.8,423.0 Q732.5,423.1 733.1,422.8 L737.9,420.3 Q738.5,420.0 739.0,419.5 L743.5,415.0 Q744.0,414.5 744.1,413.8 L744.5,411.0 Q744.6,410.3 744.0,409.9 L742.1,408.6 Q741.5,408.2 740.8,408.4 L733.2,410.2 Q732.5,410.4 731.9,410.7 L722.6,414.5 Q722.0,414.8 721.7,415.4 L720.8,417.6 Q720.5,418.2 719.9,418.7 L718.8,419.6 Q718.2,420.0 717.6,419.6 L715.9,418.6 Q715.2,418.2 714.7,417.9 L710.6,415.2 Q710.0,414.8 709.3,414.7 L703.2,413.4 Q702.5,413.3 702.0,413.8 L701.8,414.0 Q701.3,414.5 701.4,415.2 L701.9,417.6 Q702.0,418.2 701.3,418.4 L699.4,419.0 Q698.8,419.2 698.1,419.0 L696.7,418.5 Q696.0,418.2 695.7,417.6 L693.9,414.4 Q693.6,413.8 693.5,413.1 Z" fill="none" stroke="#b0b0b0" stroke-width="2.4" stroke-linejoin="miter"/>
<path d="M692.9,410.7 Q692.8,410.0 693.4,409.7 L694.4,409.1 Q695.0,408.8 695.7,408.7 L701.8,407.9 Q702.5,407.8 703.2,408.0 L710.8,409.8 Q711.5,410.0 712.2,410.0 L715.3,410.0 Q716.0,410.0 716.7,409.8 L724.3,406.8 Q725.0,406.6 725.7,406.5 L737.8,403.8 Q738.5,403.7 739.2,403.8 L746.3,404.3 Q747.0,404.4 747.6,404.8 L749.9,406.2 Q750.5,406.6 751.1,406.9 L754.0,408.5 Q754.6,408.8 755.0,409.4 L756.4,411.7 Q756.8,412.2 756.5,412.9 L754.8,416.1 Q754.5,416.8 754.0,417.3 L747.5,424.5 Q747.0,425.0 747.2,425.7 L748.8,430.3 Q749.0,431.0 748.6,431.6 L747.4,433.7 Q747.0,434.3 746.3,434.4 L740.7,435.6 Q740.0,435.7 739.3,435.6 L730.2,434.4 Q729.5,434.3 728.9,433.9 L727.1,432.9 Q726.5,432.5 727.0,432.1 L727.5,431.7 Q728.0,431.3 728.7,431.4 L734.8,431.9 Q735.5,432.0 735.1,431.5 L732.2,427.8 Q731.8,427.2 731.2,426.9 L726.2,423.9 Q725.6,423.5 726.0,423.0 L726.1,422.9 Q726.5,422.4 727.2,422.5 L731.8,423.0 Q732.5,423.1 733.1,422.8 L737.9,420.3 Q738.5,420.0 739.0,419.5 L743.5,415.0 Q744.0,414.5 744.1,413.8 L744.5,411.0 Q744.6,410.3 744.0,409.9 L742.1,408.6 Q741.5,408.2 740.8,408.4 L733.2,410.2 Q732.5,410.4 731.9,410.7 L722.6,414.5 Q722.0,414.8 721.7,415.4 L720.8,417.6 Q720.5,418.2 719.9,418.7 L718.8,419.6 Q718.2,420.0 717.6,419.6 L715.9,418.6 Q715.2,418.2 714.7,417.9 L710.6,415.2 Q710.0,414.8 709.3,414.7 L703.2,413.4 Q702.5,413.3 702.0,413.8 L701.8,414.0 Q701.3,414.5 701.4,415.2 L701.9,417.6 Q702.0,418.2 701.3,418.4 L699.4,419.0 Q698.8,419.2 698.1,419.0 L696.7,418.5 Q696.0,418.2 695.7,417.6 L693.9,414.4 Q693.6,413.8 693.5,413.1 Z" fill="none" stroke="#ececec" stroke-width="1.1" stroke-linejoin="miter"/>
<ellipse cx="521.3" cy="331.3" rx="10.8" ry="5.3" fill="#ececec" stroke="#404040" stroke-width="1" transform="rotate(0 521.3 331.3)"/>
<path d="M515.8,334.90000000000003 A6,3 0 0 1 527.3,334.5" fill="none" stroke="#4a4a4a" stroke-width="0.8"/>
<path d="M518.3,336.3 A4,2 0 0 1 524.8,336.1" fill="#fff" stroke="#777" stroke-width="0.6"/>
<ellipse cx="462.8" cy="375.8" rx="8.6" ry="4.4" fill="#ececec" stroke="#404040" stroke-width="1" transform="rotate(0 462.8 375.8)"/>
<ellipse cx="301.2" cy="508.7" rx="8.6" ry="4.4" fill="#ececec" stroke="#404040" stroke-width="1" transform="rotate(0 301.2 508.7)"/>
<ellipse cx="547" cy="631.2" rx="8.6" ry="4.4" fill="#ececec" stroke="#404040" stroke-width="1" transform="rotate(0 547 631.2)"/>
<ellipse cx="813" cy="551" rx="8.6" ry="4.4" fill="#ececec" stroke="#404040" stroke-width="1" transform="rotate(0 813 551)"/>
<ellipse cx="902.7" cy="521.3" rx="10.6" ry="5" fill="#ececec" stroke="#404040" stroke-width="1" transform="rotate(0 902.7 521.3)"/>
<path d="M897.2,524.9 A6,3 0 0 1 908.7,524.5" fill="none" stroke="#4a4a4a" stroke-width="0.8"/>
<path d="M899.7,526.3 A4,2 0 0 1 906.2,526.0999999999999" fill="#fff" stroke="#777" stroke-width="0.6"/>
<ellipse cx="373.7" cy="508.8" rx="8.6" ry="4.4" fill="#ececec" stroke="#404040" stroke-width="1" transform="rotate(0 373.7 508.8)"/>
<ellipse cx="331.7" cy="594.2" rx="8.6" ry="4.4" fill="#ececec" stroke="#404040" stroke-width="1" transform="rotate(0 331.7 594.2)"/>
<ellipse cx="377.5" cy="593.3" rx="8.6" ry="4.4" fill="#ececec" stroke="#404040" stroke-width="1" transform="rotate(0 377.5 593.3)"/>
<ellipse cx="375.5" cy="616.3" rx="8.6" ry="4.4" fill="#ececec" stroke="#404040" stroke-width="1" transform="rotate(0 375.5 616.3)"/>
<ellipse cx="558.8" cy="384.3" rx="8.6" ry="4.4" fill="#ececec" stroke="#404040" stroke-width="1" transform="rotate(0 558.8 384.3)"/>
<ellipse cx="416.7" cy="488.3" rx="8.6" ry="4.4" fill="#ececec" stroke="#404040" stroke-width="1" transform="rotate(0 416.7 488.3)"/>
<ellipse cx="867" cy="496.3" rx="8.6" ry="4.4" fill="#ececec" stroke="#404040" stroke-width="1" transform="rotate(0 867 496.3)"/>
<ellipse cx="824.7" cy="517.2" rx="8.6" ry="4.4" fill="#ececec" stroke="#404040" stroke-width="1" transform="rotate(0 824.7 517.2)"/>
<ellipse cx="575.8" cy="610" rx="8.6" ry="4.4" fill="#ececec" stroke="#404040" stroke-width="1" transform="rotate(0 575.8 610)"/>
<ellipse cx="617.8" cy="588.7" rx="8.6" ry="4.4" fill="#ececec" stroke="#404040" stroke-width="1" transform="rotate(0 617.8 588.7)"/>
<ellipse cx="601.3" cy="363" rx="8.6" ry="4.4" fill="#ececec" stroke="#404040" stroke-width="1" transform="rotate(0 601.3 363)"/>
<ellipse cx="290" cy="526.2" rx="10.6" ry="5.6" fill="#ececec" stroke="#404040" stroke-width="1" transform="rotate(0 290 526.2)"/>
<path d="M284.5,529.8000000000001 A6,3 0 0 1 296,529.4000000000001" fill="none" stroke="#4a4a4a" stroke-width="0.8"/>
<path d="M287,531.2 A4,2 0 0 1 293.5,531.0" fill="#fff" stroke="#777" stroke-width="0.6"/>
<ellipse cx="512" cy="637.2" rx="10.6" ry="5.6" fill="#ececec" stroke="#404040" stroke-width="1" transform="rotate(0 512 637.2)"/>
<path d="M506.5,640.8000000000001 A6,3 0 0 1 518,640.4000000000001" fill="none" stroke="#4a4a4a" stroke-width="0.8"/>
<path d="M509,642.2 A4,2 0 0 1 515.5,642.0" fill="#fff" stroke="#777" stroke-width="0.6"/>
<ellipse cx="447.5" cy="510.5" rx="9" ry="5.2" fill="#ececec" stroke="#404040" stroke-width="1" transform="rotate(-22 447.5 510.5)"/>
<path d="M442.5,514.0 L453.5,509.5 " stroke="#fff" stroke-width="2.2" fill="none" stroke-linecap="round"/>
<ellipse cx="638" cy="510.8" rx="9" ry="5.2" fill="#ececec" stroke="#404040" stroke-width="1" transform="rotate(-22 638 510.8)"/>
<path d="M633,514.3 L644,509.8 " stroke="#fff" stroke-width="2.2" fill="none" stroke-linecap="round"/>
<path d="M532.3,560.9 Q530.0,559.0 532.4,557.2 L533.6,556.3 Q536.0,554.5 539.0,554.3 L548.5,553.7 Q551.0,553.5 553.0,555.0 L553.0,555.0 Q555.0,556.5 553.1,558.1 L551.3,559.6 Q549.0,561.5 546.0,561.8 L538.0,562.7 Q535.0,563.0 532.7,561.1 Z" fill="#fff" stroke="#4a4a4a" stroke-width="0.8"/>
<line x1="521.3" y1="50" x2="521.3" y2="160" stroke="#555" stroke-width="0.75" stroke-dasharray="4.6 1.4 1.4 1.4"/>
<line x1="521.3" y1="225" x2="521.3" y2="305" stroke="#555" stroke-width="0.75" stroke-dasharray="4.6 1.4 1.4 1.4"/>
<line x1="462.6" y1="314" x2="462.6" y2="349" stroke="#555" stroke-width="0.75" stroke-dasharray="4.6 1.4 1.4 1.4"/>
<line x1="301.2" y1="447" x2="301.2" y2="482" stroke="#555" stroke-width="0.75" stroke-dasharray="4.6 1.4 1.4 1.4"/>
<line x1="331.6" y1="402" x2="331.6" y2="447" stroke="#555" stroke-width="0.75" stroke-dasharray="4.6 1.4 1.4 1.4"/>
<line x1="331.6" y1="482" x2="331.6" y2="594" stroke="#555" stroke-width="0.75" stroke-dasharray="4.6 1.4 1.4 1.4"/>
<line x1="331.6" y1="622.5" x2="331.6" y2="720" stroke="#555" stroke-width="0.75" stroke-dasharray="4.6 1.4 1.4 1.4"/>
<line x1="375.3" y1="500.5" x2="375.3" y2="616" stroke="#555" stroke-width="0.75" stroke-dasharray="4.6 1.4 1.4 1.4"/>
<line x1="375.3" y1="643.5" x2="375.3" y2="741" stroke="#555" stroke-width="0.75" stroke-dasharray="4.6 1.4 1.4 1.4"/>
<line x1="547.2" y1="568" x2="547.2" y2="603" stroke="#555" stroke-width="0.75" stroke-dasharray="4.6 1.4 1.4 1.4"/>
<line x1="813" y1="489" x2="813" y2="524" stroke="#555" stroke-width="0.75" stroke-dasharray="4.6 1.4 1.4 1.4"/>
<line x1="902.5" y1="243" x2="902.5" y2="350" stroke="#555" stroke-width="0.75" stroke-dasharray="4.6 1.4 1.4 1.4"/>
<line x1="902.5" y1="386" x2="902.5" y2="496" stroke="#555" stroke-width="0.75" stroke-dasharray="4.6 1.4 1.4 1.4"/>
<path d="M467.6,189.0 Q467.3,187.0 467.8,185.0 L468.0,184.2 Q468.6,181.3 470.9,179.5 L472.8,177.9 Q477.0,174.6 481.2,171.2 L483.2,169.5 Q487.5,166.0 492.5,163.5 L492.5,163.5 Q497.5,161.0 503.1,160.4 L503.8,160.3 Q510.0,159.7 516.2,159.5 L521.5,159.3 Q522.5,159.3 523.1,158.5 L527.5,152.5 L530.8,145.6 Q532.5,142.0 536.0,140.1 L538.1,139.0 Q541.0,137.5 544.2,138.1 L547.5,138.8 L877.3,302.7 Q880.0,304.0 882.1,306.2 L885.4,309.7 Q889.5,314.0 887.6,319.7 L877.5,350.0 L874.4,360.6 Q874.0,362.0 875.3,361.3 L892.4,352.8 Q896.0,351.0 900.0,351.0 L904.8,351.0 Q908.8,351.0 912.4,352.6 L916.3,354.4 Q920.0,356.0 921.0,359.9 L921.0,360.0 Q922.0,364.0 919.9,367.6 L917.0,372.5 Q915.0,376.0 911.2,377.3 L881.3,387.5 Q877.5,388.8 873.5,389.4 L865.9,390.6 Q860.0,391.5 854.6,388.9 L790.0,357.5 L744.0,320.0 L719.4,296.6 Q715.0,292.5 709.6,289.8 L700.0,285.0 L671.1,271.7 Q667.5,270.0 663.6,268.9 L640.0,262.5 L590.0,247.5 L538.8,231.2 Q535.0,230.0 531.5,228.0 L510.0,216.0 L477.3,199.3 Q473.8,197.5 471.1,194.5 L469.3,192.5 Q468.0,191.0 467.7,189.0 Z" fill="#7c7c7c" stroke="none"/>
<path d="M467.6,186.8 Q467.3,185.5 467.7,184.3 L468.0,183.4 Q468.6,181.3 470.3,179.9 L472.8,177.9 Q477.0,174.6 481.2,171.2 L483.2,169.5 Q487.5,166.0 492.5,163.5 L492.5,163.5 Q497.5,161.0 503.1,160.4 L503.8,160.3 Q510.0,159.7 516.2,159.5 L521.5,159.3 Q522.5,159.3 523.1,158.5 L527.5,152.5 L530.8,145.6 Q532.5,142.0 536.0,140.1 L538.1,139.0 Q541.0,137.5 544.2,138.1 L547.5,138.8 L877.3,302.7 Q880.0,304.0 882.1,306.2 L885.4,309.7 Q889.5,314.0 887.6,319.7 L877.5,350.0 L874.4,360.6 Q874.0,362.0 875.3,361.3 L892.4,352.8 Q896.0,351.0 900.0,351.0 L904.8,351.0 Q908.8,351.0 912.4,352.6 L917.7,355.0 Q920.0,356.0 920.5,358.5 L920.5,358.5 Q921.0,361.0 919.8,363.2 L917.9,366.5 Q916.0,370.0 912.2,371.3 L881.3,382.4 Q877.5,383.8 873.5,384.3 L867.9,385.1 Q862.0,386.0 856.6,383.5 L790.0,352.5 L750.0,320.0 L720.4,292.1 Q716.0,288.0 710.8,285.1 L700.0,279.0 L668.7,265.6 Q665.0,264.0 661.2,262.8 L640.0,256.0 L590.0,241.0 L543.8,226.2 Q540.0,225.0 536.4,223.4 L520.0,216.0 L479.7,195.4 Q477.0,194.0 474.5,192.3 L469.1,188.7 Q468.0,188.0 467.6,186.8 Z" fill="#828282" stroke="#4a4a4a" stroke-width="0.8" stroke-linejoin="round"/>
<path d="M467.6,189.0 Q467.3,187.0 467.8,185.0 L468.0,184.2 Q468.6,181.3 470.9,179.5 L472.8,177.9 Q477.0,174.6 481.2,171.2 L483.2,169.5 Q487.5,166.0 492.5,163.5 L492.5,163.5 Q497.5,161.0 503.1,160.4 L503.8,160.3 Q510.0,159.7 516.2,159.5 L521.5,159.3 Q522.5,159.3 523.1,158.5 L527.5,152.5 L530.8,145.6 Q532.5,142.0 536.0,140.1 L538.1,139.0 Q541.0,137.5 544.2,138.1 L547.5,138.8 L877.3,302.7 Q880.0,304.0 882.1,306.2 L885.4,309.7 Q889.5,314.0 887.6,319.7 L877.5,350.0 L874.4,360.6 Q874.0,362.0 875.3,361.3 L892.4,352.8 Q896.0,351.0 900.0,351.0 L904.8,351.0 Q908.8,351.0 912.4,352.6 L916.3,354.4 Q920.0,356.0 921.0,359.9 L921.0,360.0 Q922.0,364.0 919.9,367.6 L917.0,372.5 Q915.0,376.0 911.2,377.3 L881.3,387.5 Q877.5,388.8 873.5,389.4 L865.9,390.6 Q860.0,391.5 854.6,388.9 L790.0,357.5 L744.0,320.0 L719.4,296.6 Q715.0,292.5 709.6,289.8 L700.0,285.0 L671.1,271.7 Q667.5,270.0 663.6,268.9 L640.0,262.5 L590.0,247.5 L538.8,231.2 Q535.0,230.0 531.5,228.0 L510.0,216.0 L477.3,199.3 Q473.8,197.5 471.1,194.5 L469.3,192.5 Q468.0,191.0 467.7,189.0 Z" fill="none" stroke="#3a3a3a" stroke-width="1.45" stroke-linejoin="round"/>
<path d="M538.9,156.4 Q541.0,153.0 544.6,154.7 L608.4,185.3 Q612.0,187.0 610.8,190.8 L602.5,218.2 Q601.0,223.0 596.1,223.9 L593.9,224.3 Q590.0,225.0 586.4,223.2 L532.7,195.4 Q530.0,194.0 529.9,191.0 L529.5,180.0 L533.0,166.0 Z" fill="#787878" stroke="#3a3a3a" stroke-width="0.8"/>
<path d="M542.9,157.9 Q545.0,154.5 548.6,156.2 L608.4,185.3 Q612.0,187.0 610.8,190.8 L602.5,218.2 Q601.0,223.0 596.1,223.9 L593.9,224.3 Q590.0,225.0 586.4,223.2 L535.7,197.4 Q533.0,196.0 532.8,193.0 L532.0,182.0 L535.0,171.0 Z" fill="#fff" stroke="#3a3a3a" stroke-width="1.1"/>
<path d="M626.8,198.3 Q628.0,195.5 630.7,196.8 L780.4,270.7 Q784.0,272.5 783.1,276.4 L774.9,310.1 Q774.0,314.0 770.0,314.0 L768.0,314.0 Q765.0,314.0 762.8,312.0 L735.5,288.0 Q731.0,284.0 725.7,281.2 L700.0,267.5 L681.1,257.8 Q677.5,256.0 673.6,255.2 L665.0,253.5 L612.4,237.6 Q610.5,237.0 611.3,235.2 Z" fill="#787878" stroke="#3a3a3a" stroke-width="0.8"/>
<path d="M630.8,200.2 Q632.0,197.5 634.7,198.8 L780.4,270.7 Q784.0,272.5 783.1,276.4 L774.9,310.1 Q774.0,314.0 770.0,314.0 L768.0,314.0 Q765.0,314.0 762.8,312.0 L735.5,288.0 Q731.0,284.0 725.7,281.2 L700.0,267.5 L681.1,257.8 Q677.5,256.0 673.6,255.2 L665.0,253.5 L615.9,238.6 Q614.0,238.0 614.8,236.2 Z" fill="#fff" stroke="#3a3a3a" stroke-width="1.1"/>
<path d="M800.8,285.8 Q802.0,283.0 804.7,284.3 L865.8,314.4 Q869.0,316.0 871.0,319.0 L871.3,319.5 Q873.0,322.0 871.8,324.8 L861.5,349.3 Q860.0,353.0 856.1,353.9 L853.9,354.3 Q851.0,355.0 848.3,353.6 L791.8,324.9 Q790.0,324.0 790.3,322.0 L792.5,305.0 Z" fill="#787878" stroke="#3a3a3a" stroke-width="0.8"/>
<path d="M804.4,287.1 Q806.0,284.5 808.7,285.8 L865.8,314.4 Q869.0,316.0 871.0,319.0 L871.3,319.5 Q873.0,322.0 871.8,324.8 L861.5,349.3 Q860.0,353.0 856.1,353.9 L853.9,354.3 Q851.0,355.0 848.3,353.6 L794.8,325.9 Q793.0,325.0 793.2,323.0 L796.0,301.0 Z" fill="#fff" stroke="#3a3a3a" stroke-width="1.1"/>
<path d="M522.5,159.6 L513.5,185 L530.5,192.5" fill="none" stroke="#3a3a3a" stroke-width="0.8"/>
<path d="M536.5,167 Q541.5,168 541,174 Q540,180 533,181.5 Z" fill="#777" stroke="#3a3a3a" stroke-width="0.7"/>
<path d="M882.5,307 Q885,311 883.5,318 L870,363" fill="none" stroke="#3a3a3a" stroke-width="0.7"/>
<ellipse cx="517.5" cy="168" rx="4.5" ry="3" fill="#828282" stroke="#3a3a3a" stroke-width="0.8"/>
<path d="M508,184 Q507,182 510,181.5 L514,181.5" fill="none" stroke="#3a3a3a" stroke-width="0.8"/>
<ellipse cx="902.5" cy="359.4" rx="7" ry="4" fill="#8a8a8a" stroke="#3a3a3a" stroke-width="0.8"/>
<ellipse cx="902.5" cy="360.4" rx="4.5" ry="2.5" fill="#c8c8c8" stroke="none"/>
<path d="M307.8,465.2 Q307.5,463.5 308.6,462.1 L311.2,458.9 Q315.0,454.4 319.9,451.2 L321.2,450.3 Q327.5,446.2 334.4,443.4 L338.1,441.8 Q343.8,439.4 349.9,438.7 L354.0,438.2 Q356.0,438.0 358.0,437.6 L400.0,430.0 L417.5,459.5 L419.6,462.5 Q421.2,465.0 421.8,467.9 L422.1,469.3 Q422.6,472.0 422.1,474.8 L422.1,474.8 Q421.7,477.5 419.7,479.5 L417.5,481.6 Q413.3,485.8 407.9,488.2 L387.3,497.4 Q380.0,500.7 372.1,499.7 L369.3,499.3 Q363.3,498.6 358.0,495.8 L311.9,471.8 Q310.0,470.8 309.0,468.9 L308.8,468.6 Q308.0,467.0 307.8,465.2 Z" fill="#7a7a7a" stroke="none"/>
<path d="M309.2,464.0 Q307.5,461.5 309.7,459.4 L311.2,457.9 Q315.0,454.4 319.3,451.6 L321.2,450.3 Q327.5,446.2 334.4,443.4 L338.1,441.8 Q343.8,439.4 349.9,438.7 L354.0,438.2 Q356.0,438.0 358.0,437.6 L400.0,430.0 L417.5,459.5 L419.5,462.6 Q420.8,464.5 421.3,466.8 L421.3,466.8 Q421.8,469.0 421.2,471.2 L421.1,471.2 Q420.5,473.5 418.8,475.1 L416.5,477.2 Q412.5,481.0 407.5,483.2 L387.3,492.3 Q380.0,495.6 372.1,494.6 L370.0,494.3 Q364.0,493.6 358.7,490.9 L313.7,467.9 Q311.0,466.5 309.3,464.0 Z" fill="#818181" stroke="#4a4a4a" stroke-width="0.8" stroke-linejoin="round"/>
<path d="M307.8,465.2 Q307.5,463.5 308.6,462.1 L311.2,458.9 Q315.0,454.4 319.9,451.2 L321.2,450.3 Q327.5,446.2 334.4,443.4 L338.1,441.8 Q343.8,439.4 349.9,438.7 L354.0,438.2 Q356.0,438.0 358.0,437.6 L400.0,430.0 L417.5,459.5 L419.6,462.5 Q421.2,465.0 421.8,467.9 L422.1,469.3 Q422.6,472.0 422.1,474.8 L422.1,474.8 Q421.7,477.5 419.7,479.5 L417.5,481.6 Q413.3,485.8 407.9,488.2 L387.3,497.4 Q380.0,500.7 372.1,499.7 L369.3,499.3 Q363.3,498.6 358.0,495.8 L311.9,471.8 Q310.0,470.8 309.0,468.9 L308.8,468.6 Q308.0,467.0 307.8,465.2 Z" fill="none" stroke="#3a3a3a" stroke-width="1.45" stroke-linejoin="round"/>
<ellipse cx="331.4" cy="461.6" rx="15.2" ry="8.3" fill="#7a7a7a" stroke="#3a3a3a" stroke-width="0.9"/>
<path d="M322.9,466.8 A8.5,4 0 0 1 339.9,466.8 A8.5,2.5 0 0 1 322.9,466.8 Z" fill="#e9e9e9" stroke="#444" stroke-width="0.6"/>
<ellipse cx="375.3" cy="482.3" rx="15.2" ry="8.3" fill="#7a7a7a" stroke="#3a3a3a" stroke-width="0.9"/>
<path d="M366.8,487.5 A8.5,4 0 0 1 383.8,487.5 A8.5,2.5 0 0 1 366.8,487.5 Z" fill="#e9e9e9" stroke="#444" stroke-width="0.6"/>
<path d="M357.6,421.2 Q357.3,419.5 357.8,417.8 L358.5,415.5 Q359.5,412.5 361.8,410.2 L361.8,410.2 Q364.0,408.0 367.0,407.0 L368.2,406.6 Q372.0,405.3 376.0,405.8 L377.0,405.9 Q380.0,406.3 382.6,407.7 L413.2,424.5 Q415.0,425.5 416.3,427.1 L416.3,427.1 Q417.6,428.7 417.6,430.8 L417.8,458.2 Q417.8,459.8 416.4,460.7 L416.4,460.6 Q415.0,461.5 413.5,462.1 L406.0,465.1 Q402.5,466.5 398.8,465.9 L398.0,465.7 Q395.0,465.2 392.2,464.2 L361.9,453.2 Q360.0,452.5 358.3,451.4 L357.7,451.1 Q356.0,450.0 356.0,448.0 L356.0,441.5 Q356.0,440.5 357.0,440.6 L362.5,440.9 Q363.5,441.0 363.5,440.0 L363.7,428.0 Q363.7,427.0 362.9,426.4 L359.5,424.0 Q358.0,423.0 357.6,421.2 Z" fill="#797979" stroke="#3a3a3a" stroke-width="1.35" stroke-linejoin="round"/>
<path d="M356.0,441.5 Q356.0,440.5 356.9,440.2 L362.6,438.3 Q363.5,438.0 364.4,438.3 L397.2,450.5 Q400.0,451.5 402.9,450.9 L407.5,449.9 Q409.5,449.5 409.5,451.5 L409.8,460.0 Q409.8,462.0 408.1,463.0 L405.7,464.5 Q402.5,466.5 398.8,465.9 L398.0,465.7 Q395.0,465.2 392.2,464.2 L361.9,453.2 Q360.0,452.5 358.3,451.4 L357.7,451.1 Q356.0,450.0 356.0,448.0 Z" fill="#7f7f7f" stroke="#3a3a3a" stroke-width="0.7"/>
<path d="M356.3,445.2 L361,447.4 L396,460 Q402,461.3 409.6,457" fill="none" stroke="#3a3a3a" stroke-width="0.7"/>
<path d="M363.7,431.5 Q363.7,430.5 364.6,430.8 L397.2,442.5 Q400.0,443.5 403.0,443.2 L404.0,443.0 Q406.0,442.8 407.7,441.7 L408.7,441.0 Q409.5,440.5 409.5,441.5 L409.5,447.5 Q409.5,449.5 407.5,449.9 L402.9,450.9 Q400.0,451.5 397.2,450.5 L364.4,438.3 Q363.5,438.0 363.5,437.0 Z" fill="#707070" stroke="#3a3a3a" stroke-width="0.7"/>
<path d="M357.6,420.8 Q357.3,419.5 357.7,418.3 L358.5,415.5 Q359.5,412.5 361.8,410.2 L361.8,410.2 Q364.0,408.0 367.0,407.0 L368.2,406.6 Q372.0,405.3 376.0,405.8 L377.0,405.9 Q380.0,406.3 382.6,407.7 L413.2,424.5 Q415.0,425.5 416.3,427.1 L416.4,427.2 Q417.6,428.7 416.3,430.1 L416.3,430.1 Q415.0,431.5 413.5,432.7 L409.1,436.3 Q406.5,438.3 403.2,438.6 L403.2,438.6 Q400.0,439.0 396.9,437.9 L366.8,427.5 Q364.0,426.5 361.6,424.7 L359.0,422.8 Q358.0,422.0 357.6,420.8 Z" fill="#808080" stroke="#3a3a3a" stroke-width="1" stroke-linejoin="round"/>
<path d="M358,423 Q359,427 364,430.5 L400,443.5 Q406.5,443.5 410,440.5 L417.7,433.5" fill="none" stroke="#3a3a3a" stroke-width="0.7"/>
<path d="M409.7,440.5 L409.8,462" fill="none" stroke="#3a3a3a" stroke-width="0.6"/>
<line x1="331.5" y1="447" x2="331.5" y2="466" stroke="#ececec" stroke-width="0.9" stroke-dasharray="4.6 1.4 1.4 1.4"/>
<line x1="375.3" y1="424" x2="375.3" y2="487.5" stroke="#ececec" stroke-width="0.9" stroke-dasharray="4.6 1.4 1.4 1.4"/>
<line x1="521.3" y1="160" x2="521.3" y2="170" stroke="#e8e8e8" stroke-width="0.9" stroke-dasharray="4.6 1.4 1.4 1.4"/>
<line x1="902.5" y1="350" x2="902.5" y2="364" stroke="#e8e8e8" stroke-width="0.9" stroke-dasharray="4.6 1.4 1.4 1.4"/>
<path d="M513.8,305.3 L528.8,305.3 L521.3,334.3 Z" fill="#151515"/>
<path d="M455.3,348.5 L470.3,348.5 L462.8,377.5 Z" fill="#151515"/>
<path d="M293.7,481.8 L308.7,481.8 L301.2,510.8 Z" fill="#151515"/>
<path d="M539.7,604.5999999999999 L554.7,604.5999999999999 L547.2,633.5999999999999 Z" fill="#151515"/>
<path d="M805.7,523.5 L820.7,523.5 L813.2,552.5 Z" fill="#151515"/>
<path d="M895.1,495.79999999999995 L910.1,495.79999999999995 L902.6,524.8 Z" fill="#151515"/>
<path d="M324.0,718.5999999999999 L339.0,718.5999999999999 L331.5,747.5999999999999 Z" fill="#151515"/>
<path d="M368.0,740.5999999999999 L383.0,740.5999999999999 L375.5,769.5999999999999 Z" fill="#151515"/>
<defs><linearGradient id="gcap" x1="0" x2="1" y1="0" y2="0"><stop offset="0" stop-color="#dbdbdb"/><stop offset="0.4" stop-color="#e0e0e0"/><stop offset="1" stop-color="#d7d7d7"/></linearGradient><linearGradient id="gstem" x1="0" x2="1" y1="0" y2="0"><stop offset="0" stop-color="#d6d6d6"/><stop offset="0.4" stop-color="#e8e8e8"/><stop offset="1" stop-color="#d8d8d8"/></linearGradient></defs>
<path d="M454.6,276.5 L454.6,283.0 L457.3,303.5 L457.3,312.0 Q457.3,313.7 459.0,313.7 L466.6,313.7 Q468.3,313.7 468.3,312.0 L468.3,303.5 L471.0,283.0 L471.0,276.5 Z" fill="url(#gstem)" stroke="#555" stroke-width="0.8"/>
<path d="M457.3,303.5 Q462.8,305.5 468.3,303.5" fill="none" stroke="#bdbdbd" stroke-width="0.6"/>
<path d="M455.1,279.8 Q462.8,282.7 470.5,279.8" fill="none" stroke="#999" stroke-width="1.2"/>
<path d="M438.6,253.5 L438.6,266.8 A24.2,12.7 0 0 0 487.0,266.8 L487.0,253.5 A24.2,12.7 0 0 0 438.6,253.5 Z" fill="url(#gcap)" stroke="#484848" stroke-width="0.9"/>
<ellipse cx="462.8" cy="253.5" rx="24.2" ry="12.7" fill="#e4e4e4" stroke="#484848" stroke-width="0.9"/>
<ellipse cx="462.8" cy="253.9" rx="22.0" ry="11.2" fill="none" stroke="#c4c4c4" stroke-width="0.6"/>
<ellipse cx="463.0" cy="252.3" rx="3.9" ry="2.3" fill="#ededed" stroke="#5a5a5a" stroke-width="0.7"/>
<path d="M292.6,409.8 L292.6,416.3 L295.3,436.8 L295.3,445.3 Q295.3,447.0 297.0,447.0 L304.6,447.0 Q306.3,447.0 306.3,445.3 L306.3,436.8 L309.0,416.3 L309.0,409.8 Z" fill="url(#gstem)" stroke="#555" stroke-width="0.8"/>
<path d="M295.3,436.8 Q300.8,438.8 306.3,436.8" fill="none" stroke="#bdbdbd" stroke-width="0.6"/>
<path d="M293.1,413.1 Q300.8,416.0 308.5,413.1" fill="none" stroke="#999" stroke-width="1.2"/>
<path d="M277.5,380 L277.5,400.3 A23.3,12.5 0 0 0 324.1,400.3 L324.1,380 A23.3,12.5 0 0 0 277.5,380 Z" fill="url(#gcap)" stroke="#484848" stroke-width="0.9"/>
<ellipse cx="300.8" cy="380" rx="23.3" ry="12.5" fill="#e4e4e4" stroke="#484848" stroke-width="0.9"/>
<ellipse cx="300.8" cy="380.4" rx="21.1" ry="11.0" fill="none" stroke="#c4c4c4" stroke-width="0.6"/>
<ellipse cx="301.0" cy="378.8" rx="3.9" ry="2.3" fill="#ededed" stroke="#5a5a5a" stroke-width="0.7"/>
<path d="M538.8,532.5 L538.8,539.0 L541.5,559.5 L541.5,568.0 Q541.5,569.7 543.2,569.7 L550.8,569.7 Q552.5,569.7 552.5,568.0 L552.5,559.5 L555.2,539.0 L555.2,532.5 Z" fill="url(#gstem)" stroke="#555" stroke-width="0.8"/>
<path d="M541.5,559.5 Q547,561.5 552.5,559.5" fill="none" stroke="#bdbdbd" stroke-width="0.6"/>
<path d="M539.3,535.8 Q547,538.7 554.7,535.8" fill="none" stroke="#999" stroke-width="1.2"/>
<path d="M523.5,502.5 L523.5,523.0 A23.5,12.5 0 0 0 570.5,523.0 L570.5,502.5 A23.5,12.5 0 0 0 523.5,502.5 Z" fill="url(#gcap)" stroke="#484848" stroke-width="0.9"/>
<ellipse cx="547" cy="502.5" rx="23.5" ry="12.5" fill="#e4e4e4" stroke="#484848" stroke-width="0.9"/>
<ellipse cx="547" cy="502.9" rx="21.3" ry="11.0" fill="none" stroke="#c4c4c4" stroke-width="0.6"/>
<ellipse cx="547.2" cy="501.3" rx="3.9" ry="2.3" fill="#ededed" stroke="#5a5a5a" stroke-width="0.7"/>
<path d="M804.9,451.5 L804.9,458.0 L807.6,478.5 L807.6,487.0 Q807.6,488.7 809.3000000000001,488.7 L816.9,488.7 Q818.6,488.7 818.6,487.0 L818.6,478.5 L821.3000000000001,458.0 L821.3000000000001,451.5 Z" fill="url(#gstem)" stroke="#555" stroke-width="0.8"/>
<path d="M807.6,478.5 Q813.1,480.5 818.6,478.5" fill="none" stroke="#bdbdbd" stroke-width="0.6"/>
<path d="M805.4,454.8 Q813.1,457.7 820.8000000000001,454.8" fill="none" stroke="#999" stroke-width="1.2"/>
<path d="M789.4,428.5 L789.4,442.0 A23.7,12.5 0 0 0 836.8000000000001,442.0 L836.8000000000001,428.5 A23.7,12.5 0 0 0 789.4,428.5 Z" fill="url(#gcap)" stroke="#484848" stroke-width="0.9"/>
<ellipse cx="813.1" cy="428.5" rx="23.7" ry="12.5" fill="#e4e4e4" stroke="#484848" stroke-width="0.9"/>
<ellipse cx="813.1" cy="428.9" rx="21.5" ry="11.0" fill="none" stroke="#c4c4c4" stroke-width="0.6"/>
<ellipse cx="813.3000000000001" cy="427.3" rx="3.9" ry="2.3" fill="#ededed" stroke="#5a5a5a" stroke-width="0.7"/>
<path d="M324.90000000000003,370.2 L324.90000000000003,400 Q324.90000000000003,402 327.3,402 L336.3,402 Q338.7,402 338.7,400 L338.7,370.2 Z" fill="url(#gstem)" stroke="#555" stroke-width="0.8"/>
<path d="M317.2,365.2 Q319.8,371.2 324.90000000000003,373.7 L338.7,373.7 Q343.8,371.2 346.40000000000003,365.2 Z" fill="#d4d4d4" stroke="#484848" stroke-width="0.8"/>
<ellipse cx="331.8" cy="365.2" rx="14.65" ry="7.75" fill="#e4e4e4" stroke="#484848" stroke-width="0.9"/>
<ellipse cx="331.8" cy="365.2" rx="4.8" ry="2.7" fill="#ededed" stroke="#5a5a5a" stroke-width="0.7"/>
<path d="M368.6,392.3 L368.6,421.3 Q368.6,423.3 371.0,423.3 L380.0,423.3 Q382.4,423.3 382.4,421.3 L382.4,392.3 Z" fill="url(#gstem)" stroke="#555" stroke-width="0.8"/>
<path d="M360.9,387.3 Q363.5,393.3 368.6,395.8 L382.4,395.8 Q387.5,393.3 390.1,387.3 Z" fill="#d4d4d4" stroke="#484848" stroke-width="0.8"/>
<ellipse cx="375.5" cy="387.3" rx="14.65" ry="7.75" fill="#e4e4e4" stroke="#484848" stroke-width="0.9"/>
<ellipse cx="375.5" cy="387.3" rx="4.8" ry="2.7" fill="#ededed" stroke="#5a5a5a" stroke-width="0.7"/>
<path d="M514.2,27.25 L514.2,50.25 Q514.2,52.55 516.75,52.55 L525.75,52.55 Q528.3,52.55 528.3,50.25 L528.3,27.25 Z" fill="url(#gstem)" stroke="#666" stroke-width="0.8"/>
<ellipse cx="521.25" cy="21.85" rx="18.3" ry="9.2" fill="#c9c9c9" stroke="#5a5a5a" stroke-width="0.9"/>
<ellipse cx="521.25" cy="20.65" rx="17.6" ry="8.6" fill="#dadada" stroke="#777" stroke-width="0.6"/>
<ellipse cx="521.25" cy="18.95" rx="14.2" ry="8" fill="#e3e3e3" stroke="#666" stroke-width="0.8"/>
<ellipse cx="520.85" cy="15.05" rx="4.6" ry="2.5" fill="#ececec" stroke="#666" stroke-width="0.7"/>
<path d="M895.45,217.25 L895.45,240.25 Q895.45,242.55 898.0,242.55 L907.0,242.55 Q909.55,242.55 909.55,240.25 L909.55,217.25 Z" fill="url(#gstem)" stroke="#666" stroke-width="0.8"/>
<ellipse cx="902.5" cy="211.85" rx="18.3" ry="9.2" fill="#c9c9c9" stroke="#5a5a5a" stroke-width="0.9"/>
<ellipse cx="902.5" cy="210.65" rx="17.6" ry="8.6" fill="#dadada" stroke="#777" stroke-width="0.6"/>
<ellipse cx="902.5" cy="208.95" rx="14.2" ry="8" fill="#e3e3e3" stroke="#666" stroke-width="0.8"/>
<ellipse cx="902.1" cy="205.05" rx="4.6" ry="2.5" fill="#ececec" stroke="#666" stroke-width="0.7"/>
<path d="M317.0,752.5 L320.0,764.0 L335.0,767.2 L346.5,762.0 L346.5,751.5 Z" fill="#d9d9d9" stroke="#484848" stroke-width="0.8" stroke-linejoin="round"/>
<path d="M321.5,755.5 L321.5,764.3 M335.5,757.0 L335.5,767.0" stroke="#777" stroke-width="0.7" fill="none"/>
<ellipse cx="331.5" cy="748.9" rx="16.5" ry="8.5" fill="#cfcfcf" stroke="#484848" stroke-width="0.9"/>
<ellipse cx="331.5" cy="747.5" rx="16.5" ry="8.5" fill="#e0e0e0" stroke="#484848" stroke-width="0.9"/>
<ellipse cx="331.8" cy="747.8" rx="8.5" ry="4.5" fill="#e9e9e9" stroke="#484848" stroke-width="0.9"/>
<path d="M361.0,774.5 L364.0,786.0 L379.0,789.2 L390.5,784.0 L390.5,773.5 Z" fill="#d9d9d9" stroke="#484848" stroke-width="0.8" stroke-linejoin="round"/>
<path d="M365.5,777.5 L365.5,786.3 M379.5,779.0 L379.5,789.0" stroke="#777" stroke-width="0.7" fill="none"/>
<ellipse cx="375.5" cy="770.9" rx="16.5" ry="8.5" fill="#cfcfcf" stroke="#484848" stroke-width="0.9"/>
<ellipse cx="375.5" cy="769.5" rx="16.5" ry="8.5" fill="#e0e0e0" stroke="#484848" stroke-width="0.9"/>
<ellipse cx="375.8" cy="769.8" rx="8.5" ry="4.5" fill="#e9e9e9" stroke="#484848" stroke-width="0.9"/>
<path d="M324.0,718.5999999999999 L339.0,718.5999999999999 L331.5,747.5999999999999 Z" fill="#151515"/>
<path d="M368.0,740.5999999999999 L383.0,740.5999999999999 L375.5,769.5999999999999 Z" fill="#151515"/>
</svg>
</body></html>
